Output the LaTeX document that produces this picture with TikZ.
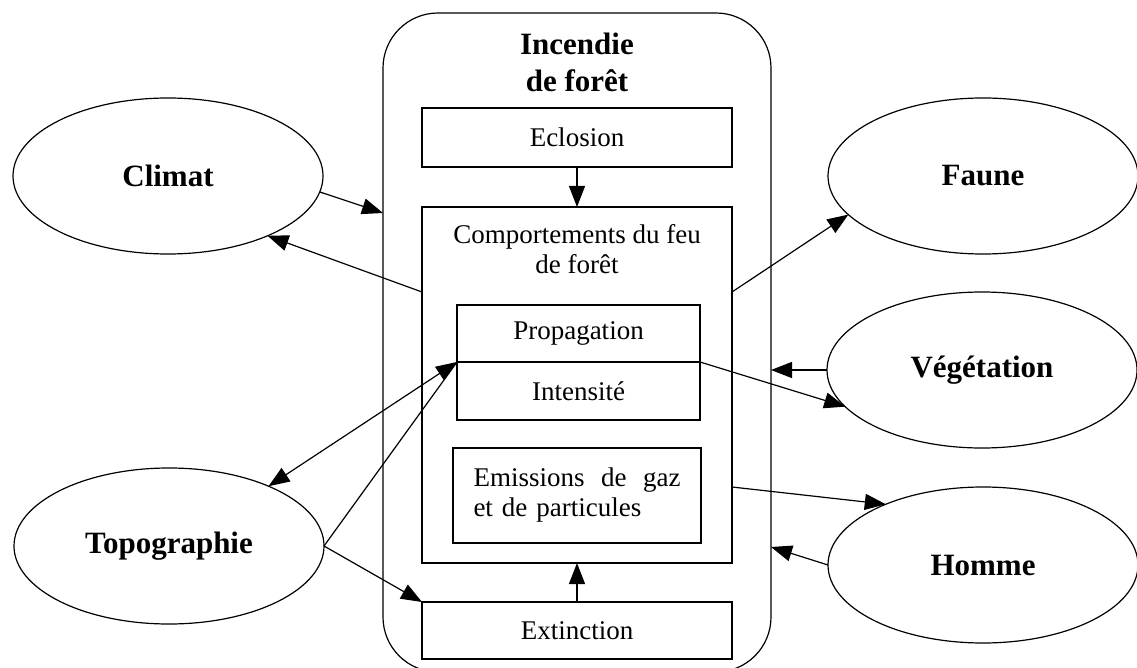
\documentclass[tikz,border=0pt]{standalone}
\usepackage{fontspec}
\setmainfont{Liberation Serif}
\usetikzlibrary{shapes.geometric,arrows.meta}
\newcommand\ellfnt{\fontsize{31}{37}\selectfont\bfseries}
\newcommand\ttlfnt{\fontsize{31}{37}\selectfont\bfseries}
\newcommand\boxfnt{\fontsize{27}{30}\selectfont}
\begin{document}
\begin{tikzpicture}[x=1pt,y=-1pt,line width=1.2pt,
  ell/.style={ellipse,draw,minimum width=310pt,minimum height=156pt,inner sep=0pt,outer sep=0pt,font=\ellfnt},
  boxn/.style={rectangle,draw,inner sep=0pt,outer sep=0pt,font=\boxfnt},
  txt/.style={inner sep=0pt,outer sep=0pt,align=center},
  arr/.style={-{Triangle[length=21pt,width=16pt]}},
  darr/.style={{Triangle[length=21pt,width=16pt]}-{Triangle[length=21pt,width=16pt]}}]
\useasboundingbox[fill=white] (0,0) rectangle (1137,668);
% big rounded container
\node[draw,rectangle,rounded corners=55pt,minimum width=388pt,minimum height=659pt,inner sep=0pt,outer sep=0pt] (fire) at (577,342.5) {};
\node[txt,font=\ttlfnt] (title) at (577,62) {Incendie\\de forêt};
% inner boxes
\node[boxn,minimum width=310pt,minimum height=59pt] (eclosion) at (577,137.5) {Eclosion};
\node[boxn,minimum width=310pt,minimum height=356pt] (comport) at (577,385) {};
\node[txt,font=\boxfnt] (comptxt) at (577,249) {Comportements du feu\\de forêt};
\node[boxn,minimum width=243pt,minimum height=57pt] (prop) at (578.5,333.5) {Propagation};
\node[boxn,minimum width=243pt,minimum height=58pt] (inten) at (578.5,391) {Intensité};
\node[boxn,minimum width=248pt,minimum height=95pt,text width=207pt,align=left] (emiss) at (577,495.5) {Emissions\hfill de\hfill gaz\\et de particules\\[6pt]};
\node[boxn,minimum width=310pt,minimum height=57pt] (extinct) at (577,630.5) {Extinction};
% ellipses
\node[ell] (climat) at (168,176) {Climat};
\node[ell] (faune) at (983,176) {Faune};
\node[ell] (veg) at (982,370) {Végétation};
\node[ell] (topo) at (169,546) {Topographie};
\node[ell] (homme) at (983,565) {Homme};
% connectors
\draw[arr] (eclosion.south) -- (comport.north);
\draw[arr] (extinct.north) -- (comport.south);
\draw[arr] (climat.-6) -- (fire.west |- 0,213);
\draw[arr] (comport.west |- 0,292) -- (climat.-31);
\draw[arr] (comport.east |- 0,292) -- (faune.196);
\draw[arr] (inten.north east) -- (veg.195);
\draw[arr] (veg.west) -- (fire.east |- veg.west);
\draw[arr] (comport.east |- 0,487) -- (homme.148);
\draw[arr] (homme.west) -- (fire.east |- 0,547);
\draw[darr] (topo.31) -- (inten.north west);
\draw (topo.east) -- (inten.north west);
\draw[arr] (topo.east) -- (extinct.north west);
\end{tikzpicture}
\end{document}
